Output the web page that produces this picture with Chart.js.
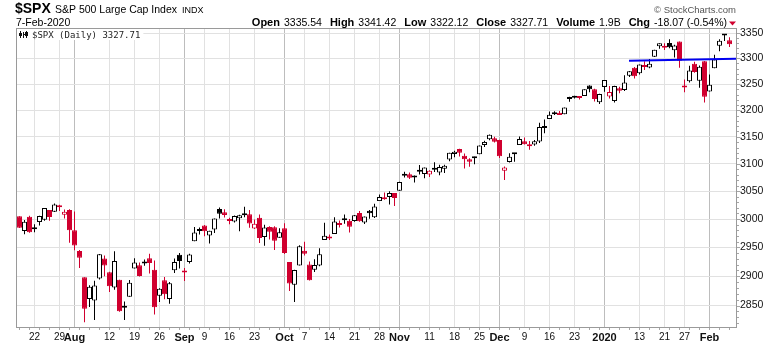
<!DOCTYPE html>
<html>
<head>
<meta charset="utf-8">
<title>$SPX daily</title>
<script src="https://cdn.jsdelivr.net/npm/chart.js@4.4.1/dist/chart.umd.min.js"></script>
<style>
  html, body { margin: 0; padding: 0; background: #fff; }
  #chart { display: block; }
</style>
</head>
<body>
<canvas id="chart" width="780" height="345"></canvas>
<script>
const dates = [
  "2019-07-17","2019-07-18","2019-07-19","2019-07-22","2019-07-23","2019-07-24","2019-07-25","2019-07-26","2019-07-29","2019-07-30","2019-07-31",
  "2019-08-01","2019-08-02","2019-08-05","2019-08-06","2019-08-07","2019-08-08","2019-08-09","2019-08-12","2019-08-13","2019-08-14","2019-08-15",
  "2019-08-16","2019-08-19","2019-08-20","2019-08-21","2019-08-22","2019-08-23","2019-08-26","2019-08-27","2019-08-28","2019-08-29","2019-08-30",
  "2019-09-03","2019-09-04","2019-09-05","2019-09-06","2019-09-09","2019-09-10","2019-09-11","2019-09-12","2019-09-13","2019-09-16","2019-09-17",
  "2019-09-18","2019-09-19","2019-09-20","2019-09-23","2019-09-24","2019-09-25","2019-09-26","2019-09-27","2019-09-30",
  "2019-10-01","2019-10-02","2019-10-03","2019-10-04","2019-10-07","2019-10-08","2019-10-09","2019-10-10","2019-10-11","2019-10-14","2019-10-15",
  "2019-10-16","2019-10-17","2019-10-18","2019-10-21","2019-10-22","2019-10-23","2019-10-24","2019-10-25","2019-10-28","2019-10-29","2019-10-30","2019-10-31",
  "2019-11-01","2019-11-04","2019-11-05","2019-11-06","2019-11-07","2019-11-08","2019-11-11","2019-11-12","2019-11-13","2019-11-14","2019-11-15",
  "2019-11-18","2019-11-19","2019-11-20","2019-11-21","2019-11-22","2019-11-25","2019-11-26","2019-11-27","2019-11-29",
  "2019-12-02","2019-12-03","2019-12-04","2019-12-05","2019-12-06","2019-12-09","2019-12-10","2019-12-11","2019-12-12","2019-12-13","2019-12-16",
  "2019-12-17","2019-12-18","2019-12-19","2019-12-20","2019-12-23","2019-12-24","2019-12-26","2019-12-27","2019-12-30","2019-12-31",
  "2020-01-02","2020-01-03","2020-01-06","2020-01-07","2020-01-08","2020-01-09","2020-01-10","2020-01-13","2020-01-14","2020-01-15","2020-01-16",
  "2020-01-17","2020-01-21","2020-01-22","2020-01-23","2020-01-24","2020-01-27","2020-01-28","2020-01-29","2020-01-30","2020-01-31",
  "2020-02-03","2020-02-04","2020-02-05","2020-02-06","2020-02-07"
];
const opens = [
  3005.10,2978.87,3004.26,2981.93,2994.74,2998.77,3016.26,3013.25,3024.47,3007.66,3016.22,
  2980.32,2943.90,2898.07,2861.18,2858.65,2896.21,2930.51,2907.07,2880.72,2894.15,2846.20,
  2864.74,2913.48,2919.01,2922.04,2930.94,2911.07,2866.70,2893.14,2861.28,2910.37,2937.09,
  2909.01,2924.67,2960.60,2980.33,2988.43,2971.01,2981.41,3018.21,3012.21,2996.41,2995.67,
  3001.50,3010.36,3008.42,2983.50,3002.43,2968.35,2985.73,2985.47,2967.07,
  2983.69,2924.78,2885.38,2918.56,2944.23,2920.40,2911.10,2918.55,2963.07,2965.81,2973.61,
  2989.68,3000.77,2996.84,2996.48,3010.73,2994.01,3014.78,3003.32,3032.12,3035.39,3039.74,3046.90,
  3050.72,3078.96,3080.80,3075.10,3087.02,3081.25,3080.33,3089.28,3084.18,3090.75,3107.92,
  3117.91,3127.45,3114.66,3108.49,3111.41,3117.44,3134.85,3145.49,3147.18,
  3143.85,3087.41,3103.50,3119.21,3134.62,3141.86,3135.36,3135.75,3141.23,3166.65,3183.63,
  3195.40,3195.21,3192.32,3223.33,3226.05,3225.45,3227.20,3247.23,3240.09,3215.18,
  3244.67,3226.36,3217.55,3241.86,3238.59,3266.03,3281.81,3271.13,3285.35,3282.27,3302.97,
  3323.66,3321.03,3330.02,3315.77,3333.10,3247.16,3255.35,3289.46,3256.45,3294.50,
  3235.66,3280.61,3324.91,3344.92,3335.54
];
const highs = [
  3005.26,2998.28,3006.02,2990.71,3005.90,3019.59,3016.31,3027.98,3025.61,3017.19,3017.40,
  3013.59,2945.50,2898.07,2884.40,2892.17,2938.72,2935.75,2907.58,2943.31,2894.15,2856.67,
  2893.63,2931.00,2923.63,2928.73,2939.08,2927.01,2879.27,2898.79,2890.03,2930.50,2940.43,
  2914.39,2938.84,2985.86,2985.03,2989.43,2979.39,3000.93,3020.80,3017.33,3002.19,3006.21,
  3007.83,3021.99,3016.37,2999.15,3007.98,2989.82,2987.28,2987.31,2983.85,
  2992.53,2924.78,2911.13,2953.74,2959.75,2925.47,2929.32,2948.46,2993.28,2972.84,3003.28,
  2997.54,3008.29,3000.00,3007.33,3014.57,3004.78,3016.07,3027.39,3044.08,3047.87,3050.10,3046.90,
  3066.95,3085.20,3083.95,3078.34,3097.77,3093.09,3088.33,3102.61,3098.06,3098.20,3120.46,
  3124.17,3127.64,3118.97,3110.11,3112.87,3133.83,3142.69,3154.26,3150.30,
  3144.31,3094.97,3119.38,3119.45,3150.60,3148.87,3142.12,3143.98,3176.28,3182.68,3197.71,
  3198.22,3198.48,3205.48,3225.65,3227.78,3226.43,3240.08,3247.93,3240.92,3231.72,
  3258.14,3246.15,3246.84,3244.91,3267.07,3275.58,3282.99,3288.13,3294.25,3298.66,3317.11,
  3329.88,3329.79,3337.77,3326.88,3333.18,3258.85,3285.78,3293.47,3285.91,3295.00,
  3268.44,3306.92,3337.58,3347.96,3341.42
];
const lows = [
  2984.25,2973.09,2975.86,2976.65,2988.56,2996.82,2997.24,3012.59,3014.30,3000.94,2958.08,
  2945.23,2914.11,2822.12,2847.42,2825.71,2894.47,2900.15,2873.14,2877.05,2839.64,2825.51,
  2864.74,2913.48,2899.60,2917.91,2904.51,2834.97,2856.00,2860.59,2853.05,2905.67,2913.32,
  2891.85,2921.86,2960.60,2972.51,2969.39,2957.01,2975.31,3000.92,3002.90,2990.67,2993.73,
  2978.57,3003.16,2984.68,2982.23,2957.73,2952.86,2963.71,2945.53,2967.07,
  2938.70,2874.93,2855.94,2918.56,2935.68,2892.66,2907.41,2917.12,2963.07,2962.94,2973.61,
  2985.20,2991.79,2976.31,2995.35,2995.04,2991.21,3000.42,3001.94,3032.12,3034.81,3025.96,3023.19,
  3050.72,3074.87,3072.15,3065.89,3080.23,3073.58,3075.82,3084.73,3078.80,3083.26,3104.60,
  3112.06,3113.47,3091.41,3094.55,3099.26,3117.44,3131.00,3143.41,3139.34,
  3110.78,3070.33,3102.53,3103.76,3134.62,3135.46,3126.09,3133.21,3138.47,3156.51,3183.63,
  3191.03,3191.14,3192.32,3216.03,3222.30,3220.51,3227.20,3234.37,3216.57,3212.03,
  3235.53,3222.34,3214.64,3232.43,3236.67,3263.67,3260.86,3268.43,3277.19,3280.69,3302.82,
  3318.86,3316.61,3320.04,3301.87,3281.53,3234.50,3253.22,3271.89,3242.80,3214.68,
  3235.66,3280.61,3313.75,3334.39,3322.12
];
const closes = [
  2984.42,2995.11,2976.61,2985.03,3005.47,3019.56,3003.67,3025.86,3020.97,3013.18,2980.38,
  2953.56,2932.05,2844.74,2881.77,2883.98,2938.09,2918.65,2882.70,2926.32,2840.60,2847.60,
  2888.68,2923.65,2900.51,2924.43,2922.95,2847.11,2878.38,2869.16,2887.94,2924.58,2926.46,
  2906.27,2937.78,2976.00,2978.71,2978.43,2979.39,3000.93,3009.57,3007.39,2997.96,3005.70,
  3006.73,3006.79,2992.07,2991.78,2966.60,2984.87,2977.62,2961.79,2976.74,
  2940.25,2887.61,2910.63,2952.01,2938.79,2893.06,2919.40,2938.13,2970.27,2966.15,2995.68,
  2989.69,2997.95,2986.20,3006.72,2995.99,3004.52,3010.29,3022.55,3039.42,3036.89,3046.77,3037.56,
  3066.91,3078.27,3074.62,3076.78,3085.18,3093.08,3087.01,3091.84,3094.04,3096.63,3120.46,
  3122.03,3120.18,3108.46,3103.54,3110.29,3133.64,3140.52,3153.63,3140.98,
  3113.87,3093.20,3112.76,3117.43,3145.91,3135.96,3132.52,3141.63,3168.57,3168.80,3191.45,
  3192.52,3191.14,3205.37,3221.22,3224.01,3223.38,3239.91,3240.02,3221.29,3230.78,
  3257.85,3234.85,3246.28,3237.18,3253.05,3274.70,3265.35,3288.13,3283.15,3289.29,3316.81,
  3329.62,3320.79,3321.75,3325.54,3295.47,3243.63,3276.24,3273.40,3283.66,3225.52,
  3248.92,3297.59,3334.69,3345.78,3327.71
];
const priorClose = 3004.04;     // close of the session before the first candle
const volumeText = "1.9B";

const yTicks = [2850, 2900, 2950, 3000, 3050, 3100, 3150, 3200, 3250, 3300, 3350];
const monthNames = ["Jan","Feb","Mar","Apr","May","Jun","Jul","Aug","Sep","Oct","Nov","Dec"];

// resistance line drawn across the January highs (x in session index)
const trendX = [121.9, 143.3];
const trendY = [3295.4, 3299.4];

const RED = "#d0002f";
const FAM = '"Liberation Sans", Arial, sans-serif';

const asDate = s => new Date(s + "T00:00:00");

// month starts get the month name (year for January), week starts get the day
// number unless they sit within a few sessions of a month label
function buildDateTicks() {
  const monthStarts = [];
  for (let i = 1; i < dates.length; i++) {
    if (asDate(dates[i]).getMonth() !== asDate(dates[i - 1]).getMonth()) monthStarts.push(i);
  }
  const out = [];
  for (let i = 1; i < dates.length; i++) {
    const cur = asDate(dates[i]), prev = asDate(dates[i - 1]);
    if (monthStarts.includes(i)) {
      const txt = cur.getMonth() === 0 ? String(cur.getFullYear()) : monthNames[cur.getMonth()];
      out.push({ value: i, major: true, text: txt });
    } else if (cur.getDay() < prev.getDay() && monthStarts.every(m => Math.abs(m - i) >= 3)) {
      out.push({ value: i, major: false, text: String(cur.getDate()) });
    }
  }
  return out;
}
const dateTicks = buildDateTicks();
const tickText = {};
dateTicks.forEach(t => { tickText[t.value] = t.text; });

// stockcharts colouring: black/red vs previous close, hollow when close >= open
const tone = closes.map((c, i) => c >= (i ? closes[i - 1] : priorClose) ? "#000" : RED);
const hollow = closes.map((c, i) => c >= opens[i]);

const bodies = dates.map((d, i) => ({ x: i, y: [opens[i], closes[i]] }));
const wicks = dates.map((d, i) => ({ x: i, y: [lows[i], highs[i]] }));
const trend = trendX.map((x, k) => ({ x, y: trendY[k] }));

const last = closes.length - 1;
const fmt = v => v.toFixed(2);

const overlay = {
  id: "overlay",
  afterDraw(chart) {
    const { ctx, chartArea: a, scales: { x, y } } = chart;
    ctx.save();

    // small ticks along the right and bottom edges
    ctx.fillStyle = "#a6a6a6";
    for (let v = Math.ceil(y.min / 10) * 10; v <= y.max; v += 10) {
      const py = Math.round(y.getPixelForValue(v));
      ctx.fillRect(a.right + 1, py, v % 50 ? 2 : 3, 1);
    }
    dates.forEach((d, i) => {
      if (i % 2) return;
      ctx.fillRect(Math.floor(x.getPixelForValue(i)), a.bottom + 1, 1, 2);
    });

    // plot frame
    ctx.strokeStyle = "#9a9a9a";
    ctx.lineWidth = 1;
    ctx.strokeRect(a.left - 0.5, a.top - 0.5, a.right - a.left + 1, a.bottom - a.top + 1);

    // in-plot legend
    const legend = "$SPX (Daily) " + fmt(closes[last]);
    ctx.font = '9px "DejaVu Sans Mono", monospace';
    const lw = ctx.measureText(legend).width;
    ctx.fillStyle = "#fff";
    ctx.fillRect(a.left, a.top, lw + 18, 11);
    ctx.fillStyle = "#222";
    ctx.fillText(legend, a.left + 15, a.top + 9);
    // tiny candle glyph
    ctx.fillStyle = "#111";
    const gx = a.left + 2, gy = a.top + 2;
    ctx.fillRect(gx + 1, gy, 1, 7);
    ctx.fillRect(gx, gy + 2, 3, 3);
    ctx.fillRect(gx + 4, gy + 1, 1, 6);
    ctx.fillRect(gx + 5, gy + 3, 1, 1);
    ctx.fillRect(gx + 7, gy, 1, 7);
    ctx.fillRect(gx + 6, gy + 1, 3, 4);

    // header
    ctx.fillStyle = "#000";
    ctx.textAlign = "left";
    ctx.textBaseline = "alphabetic";
    ctx.font = "bold 14px " + FAM;
    ctx.fillText("$SPX", 15, 12.5);
    ctx.font = "10.5px " + FAM;
    ctx.fillText("S&P 500 Large Cap Index", 55, 12.5);
    ctx.font = "9px " + FAM;
    ctx.fillText("INDX", 182, 12.5);

    const d = asDate(dates[last]);
    ctx.font = "10.5px " + FAM;
    ctx.fillText(d.getDate() + "-" + monthNames[d.getMonth()] + "-" + d.getFullYear(), 16, 26);

    const chg = closes[last] - closes[last - 1];
    const pct = chg / closes[last - 1] * 100;
    const parts = [
      ["Open", fmt(opens[last])], ["High", fmt(highs[last])], ["Low", fmt(lows[last])],
      ["Close", fmt(closes[last])], ["Volume", volumeText],
      ["Chg", fmt(chg) + " (" + fmt(pct) + "%)"]
    ];
    const bold = "bold 11px " + FAM, reg = "10.5px " + FAM;
    const inner = 4, outer = 8;
    let total = 0;
    parts.forEach(([k, v], n) => {
      ctx.font = bold; total += ctx.measureText(k).width + inner;
      ctx.font = reg; total += ctx.measureText(v).width + (n < parts.length - 1 ? outer : 0);
    });
    let px = 727 - total;
    parts.forEach(([k, v]) => {
      ctx.font = bold; ctx.fillText(k, px, 26); px += ctx.measureText(k).width + inner;
      ctx.font = reg; ctx.fillText(v, px, 26); px += ctx.measureText(v).width + outer;
    });
    // down arrow for the day's change
    ctx.fillStyle = chg < 0 ? RED : "#000";
    ctx.beginPath();
    ctx.moveTo(729, 21.5); ctx.lineTo(736, 21.5); ctx.lineTo(732.5, 25.5);
    ctx.closePath(); ctx.fill();

    ctx.fillStyle = "#555";
    ctx.textAlign = "right";
    ctx.font = "9.5px " + FAM;
    ctx.fillText("\u00a9 StockCharts.com", 736, 12.5);
    ctx.restore();
  }
};

new Chart(document.getElementById("chart"), {
  type: "bar",
  data: {
    datasets: [
      {
        type: "line", data: trend, borderColor: "#0000f0", borderWidth: 2,
        pointRadius: 0, fill: false, order: 0
      },
      {
        data: bodies, order: 1, grouped: false, barThickness: 5, minBarLength: 2,
        inflateAmount: 0, borderSkipped: false, borderWidth: 1,
        borderColor: tone,
        backgroundColor: hollow.map((h, i) => h ? "#fff" : tone[i])
      },
      {
        data: wicks, order: 2, grouped: false, barThickness: 1,
        inflateAmount: 0, borderWidth: 0, backgroundColor: tone
      }
    ]
  },
  options: {
    responsive: false,
    animation: false,
    events: [],
    layout: { padding: { left: 17, top: 29, right: 0, bottom: 0 } },
    plugins: { legend: { display: false }, tooltip: { enabled: false } },
    scales: {
      x: {
        type: "linear", min: -0.5, max: 143.3, offset: false,
        afterBuildTicks: s => { s.ticks = dateTicks.map(t => ({ value: t.value, major: t.major })); },
        afterFit: s => { s.height = 18; },
        grid: {
          offset: false, drawTicks: false,
          color: c => (c.tick && c.tick.major) ? "#bdbdbd" : "#e1e1e1"
        },
        border: { display: false },
        ticks: {
          autoSkip: false, maxRotation: 0, padding: 4, color: "#111",
          font: c => (c.tick && c.tick.major)
            ? { family: FAM, size: 11, weight: "bold" }
            : { family: FAM, size: 10, weight: "normal" },
          callback: v => tickText[v] || ""
        }
      },
      y: {
        type: "logarithmic", position: "right", min: 2814, max: 3358,
        afterBuildTicks: s => { s.ticks = yTicks.map(v => ({ value: v })); },
        afterFit: s => { s.width = 44; },
        grid: { drawTicks: false, color: "#e1e1e1" },
        border: { display: false },
        ticks: {
          padding: 4, color: "#111",
          font: { family: FAM, size: 10.5 },
          callback: v => String(v)
        }
      }
    }
  },
  plugins: [overlay]
});
</script>
</body>
</html>
